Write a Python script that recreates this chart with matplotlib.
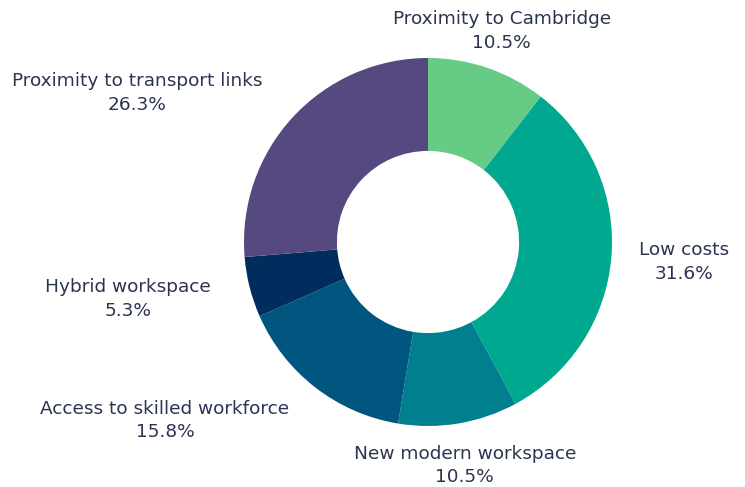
import matplotlib
matplotlib.use("Agg")
import matplotlib.pyplot as plt

categories = ["Proximity to Cambridge", "Low costs", "New modern workspace",
              "Access to skilled workforce", "Hybrid workspace",
              "Proximity to transport links"]
shares = [10.5, 31.6, 10.5, 15.8, 5.3, 26.3]
colors = ["#66CC85", "#00A88F", "#00808F", "#00567F", "#002D5E", "#554980"]

# label centres (in units of outer radius, relative to pie centre)
label_pos = [(0.40, 1.145), (1.39, -0.11), (0.20, -1.215),
             (-1.43, -0.97), (-1.63, -0.31), (-1.58, 0.81)]

W, H = 745, 487
cx, cy, R = 428, 242, 184
fig = plt.figure(figsize=(W / 100, H / 100), dpi=100)
ax = fig.add_axes([0, 0, 1, 1])
ax.pie(shares, colors=colors, startangle=90, counterclock=False, radius=1,
       wedgeprops=dict(width=0.505, linewidth=0))
ax.set_xlim(-cx / R, (W - cx) / R)
ax.set_ylim(-(H - cy) / R, cy / R)
ax.set_aspect("auto")
ax.axis("off")

for cat, val, (x, y) in zip(categories, shares, label_pos):
    ax.text(x, y, f"{cat}\n{val:.1f}%", ha="center", va="center",
            fontsize=13.3, color="#2C3550", family=["DejaVu Sans"],
            linespacing=1.42)

fig.savefig("out.png", dpi=100)
